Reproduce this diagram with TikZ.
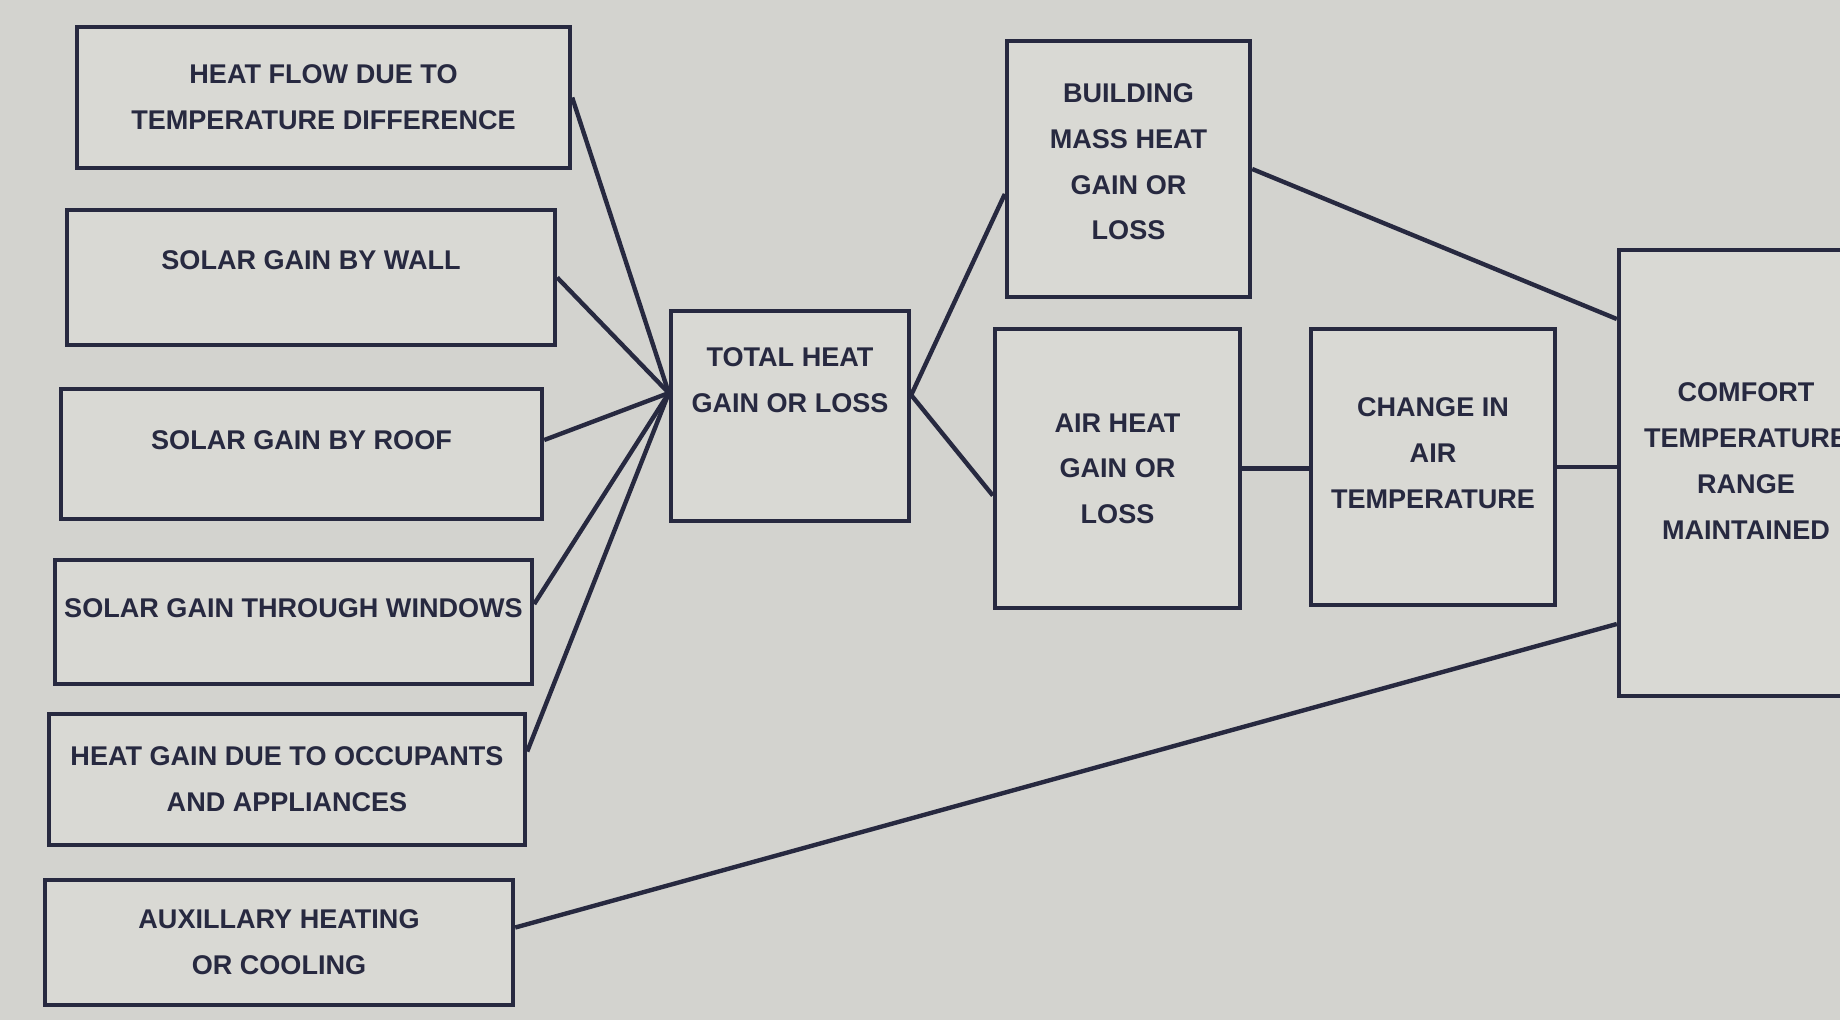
\documentclass[tikz,border=0pt]{standalone}
\usepackage{fontspec}
\setmainfont{Liberation Sans}
\usepackage{xcolor}
\definecolor{Paper}{HTML}{D3D3CF}
\definecolor{Card}{HTML}{D9D9D4}
\definecolor{Ink}{HTML}{272940}
\usetikzlibrary{positioning,calc}

\begin{document}
\begin{tikzpicture}[
  x=0.1mm, y=-0.1mm,
  every node/.style={font=\bfseries\fontsize{7.7}{13}\selectfont,align=center,text=Ink},
  box/.style={draw=Ink,fill=Card,line width=1.25pt,inner sep=0pt},
  lift/.style={text depth=#1},
  link/.style={draw=Ink,line width=1.25pt}
]
\path[use as bounding box,fill=Paper] (0,0) rectangle (1840,1020);
\clip (0,0) rectangle (1840,1020);

% sources of heat, left column
\node[box,minimum width=49.3mm,minimum height=14.1mm] (flow) at (323.5,97.5) {HEAT FLOW DUE TO\\TEMPERATURE DIFFERENCE};
\node[box,minimum width=48.8mm,minimum height=13.5mm,lift=3.4mm] (wall) at (311,277.5) {SOLAR GAIN BY WALL};
\node[box,minimum width=48.1mm,minimum height=13mm,lift=2.8mm] (roof) at (301.5,454) {SOLAR GAIN BY ROOF};
\node[box,minimum width=47.7mm,minimum height=12.4mm,lift=2.8mm] (windows) at (293.5,622) {SOLAR GAIN THROUGH WINDOWS};
\node[box,minimum width=47.6mm,minimum height=13.1mm] (occupants) at (287,779.5) {HEAT GAIN DUE TO OCCUPANTS\\AND APPLIANCES};
\node[box,minimum width=46.8mm,minimum height=12.5mm] (auxiliary) at (279,942.5) {AUXILLARY HEATING\\OR COOLING};

% balance and its effects
\node[box,minimum width=23.8mm,minimum height=21mm,lift=7.2mm] (total) at (790,416) {TOTAL HEAT\\GAIN OR LOSS};
\node[box,minimum width=24.3mm,minimum height=25.6mm,lift=1.4mm] (mass) at (1128.5,169) {BUILDING\\MASS HEAT\\GAIN OR\\LOSS};
\node[box,minimum width=24.5mm,minimum height=27.9mm] (air) at (1117.5,468.5) {AIR HEAT\\GAIN OR\\LOSS};
\node[box,minimum width=24.4mm,minimum height=27.6mm,lift=2.8mm] (change) at (1433,467) {CHANGE IN\\AIR\\TEMPERATURE};
\node[box,minimum width=25.4mm,minimum height=44.6mm,lift=2.4mm] (comfort) at (1746,473) {COMFORT\\TEMPERATURE\\RANGE\\MAINTAINED};

% meeting points on the total box
\coordinate (hub) at ([yshift=2.3mm]total.west);
\coordinate (split) at ([yshift=2.1mm]total.east);

\foreach \src/\dy in {flow/0mm,wall/0mm,roof/1.4mm,windows/1.8mm,occupants/2.8mm}
  \draw[link] ([yshift=\dy]\src.east) -- (hub);
\draw[link] (split) -- ([yshift=-2.5mm]mass.west);
\draw[link] (split) -- ([yshift=-2.7mm]air.west);
\draw[link] (air.east) -- (air.east -| change.west);
\draw[link] (change.east) -- (change.east -| comfort.west);
\draw[link] (mass.east) -- ([yshift=15.4mm]comfort.west);
\draw[link] ([yshift=1.5mm]auxiliary.east) -- ([yshift=-15.1mm]comfort.west);
\end{tikzpicture}
\end{document}
